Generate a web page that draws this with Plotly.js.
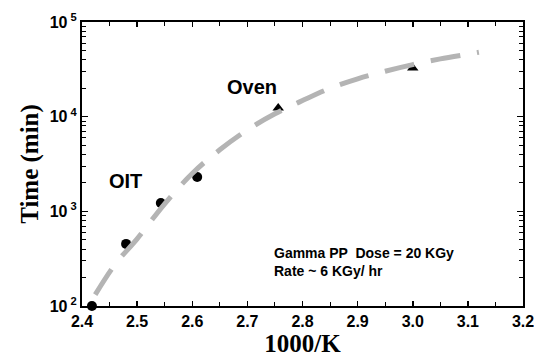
<!DOCTYPE html>
<html>
<head>
<meta charset="utf-8">
<script src="https://cdn.plot.ly/plotly-3.0.1.min.js"></script>
<style>html,body{margin:0;padding:0;background:#fff;}#chart{width:534px;height:357px;}</style>
</head>
<body>
<div id="chart"></div>
<script>
// Data
var oitX = [2.418, 2.480, 2.543, 2.609];
var oitY = [100, 453, 1227, 2307];
var ovenX = [2.756, 3.000];
var ovenY = [12360, 32700];
var fitX = [2.424, 2.46, 2.50, 2.55, 2.60, 2.65, 2.70, 2.75, 2.80, 2.85, 2.90, 2.95, 3.00, 3.05, 3.10, 3.12];
var fitLogY = [2.12, 2.44, 2.71, 3.08, 3.40, 3.65, 3.86, 4.03, 4.17, 4.30, 4.40, 4.48, 4.55, 4.61, 4.66, 4.68];
var yTickVals = [100, 1000, 10000, 100000];
var yTickText = ["<b>10<sup> 2</sup></b>", "<b>10<sup> 3</sup></b>", "<b>10<sup> 4</sup></b>", "<b>10<sup> 5</sup></b>"];
var xTickVals = [2.4, 2.5, 2.6, 2.7, 2.8, 2.9, 3.0, 3.1, 3.2];
var xTickText = ["<b>2.4</b>", "<b>2.5</b>", "<b>2.6</b>", "<b>2.7</b>", "<b>2.8</b>", "<b>2.9</b>", "<b>3.0</b>", "<b>3.1</b>", "<b>3.2</b>"];

var fitY = fitLogY.map(function (v) { return Math.pow(10, v); });
var yMinor = [];
for (var k = 2; k < 5; k++) for (var m = 2; m <= 9; m++) yMinor.push(m * Math.pow(10, k));

var sans = "Liberation Sans, Arial, sans-serif";
var serif = "Liberation Serif, Times New Roman, serif";

var data = [
  { x: oitX, y: oitY, mode: "markers", type: "scatter", cliponaxis: false,
    marker: { symbol: "circle", size: 10, color: "#000" }, showlegend: false },
  { x: ovenX, y: ovenY, mode: "markers", type: "scatter", cliponaxis: false,
    marker: { symbol: "triangle-up", size: 10, color: "#000" }, showlegend: false },
  { x: fitX, y: fitY, mode: "lines", type: "scatter", line: { shape: "spline", smoothing: 1, color: "#b4b4b4", width: 5, dash: "30px,17px" }, showlegend: false }
];

var layout = {
  width: 534, height: 357,
  margin: { l: 82, r: 11, t: 22, b: 51 },
  paper_bgcolor: "#fff", plot_bgcolor: "#fff",
  xaxis: {
    range: [2.4, 3.2], tickmode: "array", tickvals: xTickVals, ticktext: xTickText,
    ticks: "inside", ticklen: 5, tickwidth: 1.5, tickcolor: "#000",
    showline: true, linecolor: "#000", linewidth: 2, mirror: "ticks",
    showgrid: false, zeroline: false, ticklabeloverflow: "allow",
    minor: { tickvals: [2.45, 2.55, 2.65, 2.75, 2.85, 2.95, 3.05, 3.15], ticks: "inside", ticklen: 4, tickcolor: "#000", tickwidth: 1 },
    tickfont: { family: sans, size: 16, color: "#000" },
    title: { text: "<b>1000/K</b>", font: { family: serif, size: 25, color: "#000" }, standoff: 4 }
  },
  yaxis: {
    type: "log", range: [2, 5], tickmode: "array", tickvals: yTickVals, ticktext: yTickText,
    ticks: "inside", ticklen: 6, tickwidth: 1.5, tickcolor: "#000",
    showline: true, linecolor: "#000", linewidth: 2, mirror: "ticks",
    showgrid: false, zeroline: false, ticklabeloverflow: "allow",
    minor: { tickvals: yMinor, ticks: "inside", ticklen: 4, tickcolor: "#000", tickwidth: 1 },
    tickfont: { family: sans, size: 16, color: "#000" },
    title: { text: "<b>Time (min)</b>", font: { family: serif, size: 25, color: "#000" }, standoff: 4 }
  },
  annotations: [
    { text: "<b>OIT</b>", x: 2.478, y: Math.log10(2090), xref: "x", yref: "y", xanchor: "center", yanchor: "middle", showarrow: false,
      font: { family: sans, size: 20, color: "#000" } },
    { text: "<b>Oven</b>", x: 2.709, y: 4.314, xref: "x", yref: "y", xanchor: "center", yanchor: "middle", showarrow: false,
      font: { family: sans, size: 20, color: "#000" } },
    { text: "<b>Gamma PP  Dose = 20 KGy</b>", x: 2.745, y: 2.555, xref: "x", yref: "y", xanchor: "left", yanchor: "middle", align: "left", showarrow: false,
      font: { family: sans, size: 14, color: "#000" } },
    { text: "<b>Rate ~ 6 KGy/ hr</b>", x: 2.745, y: 2.365, xref: "x", yref: "y", xanchor: "left", yanchor: "middle", align: "left", showarrow: false,
      font: { family: sans, size: 14, color: "#000" } }
  ]
};

Plotly.newPlot("chart", data, layout, { displayModeBar: false, staticPlot: true });
</script>
</body>
</html>
